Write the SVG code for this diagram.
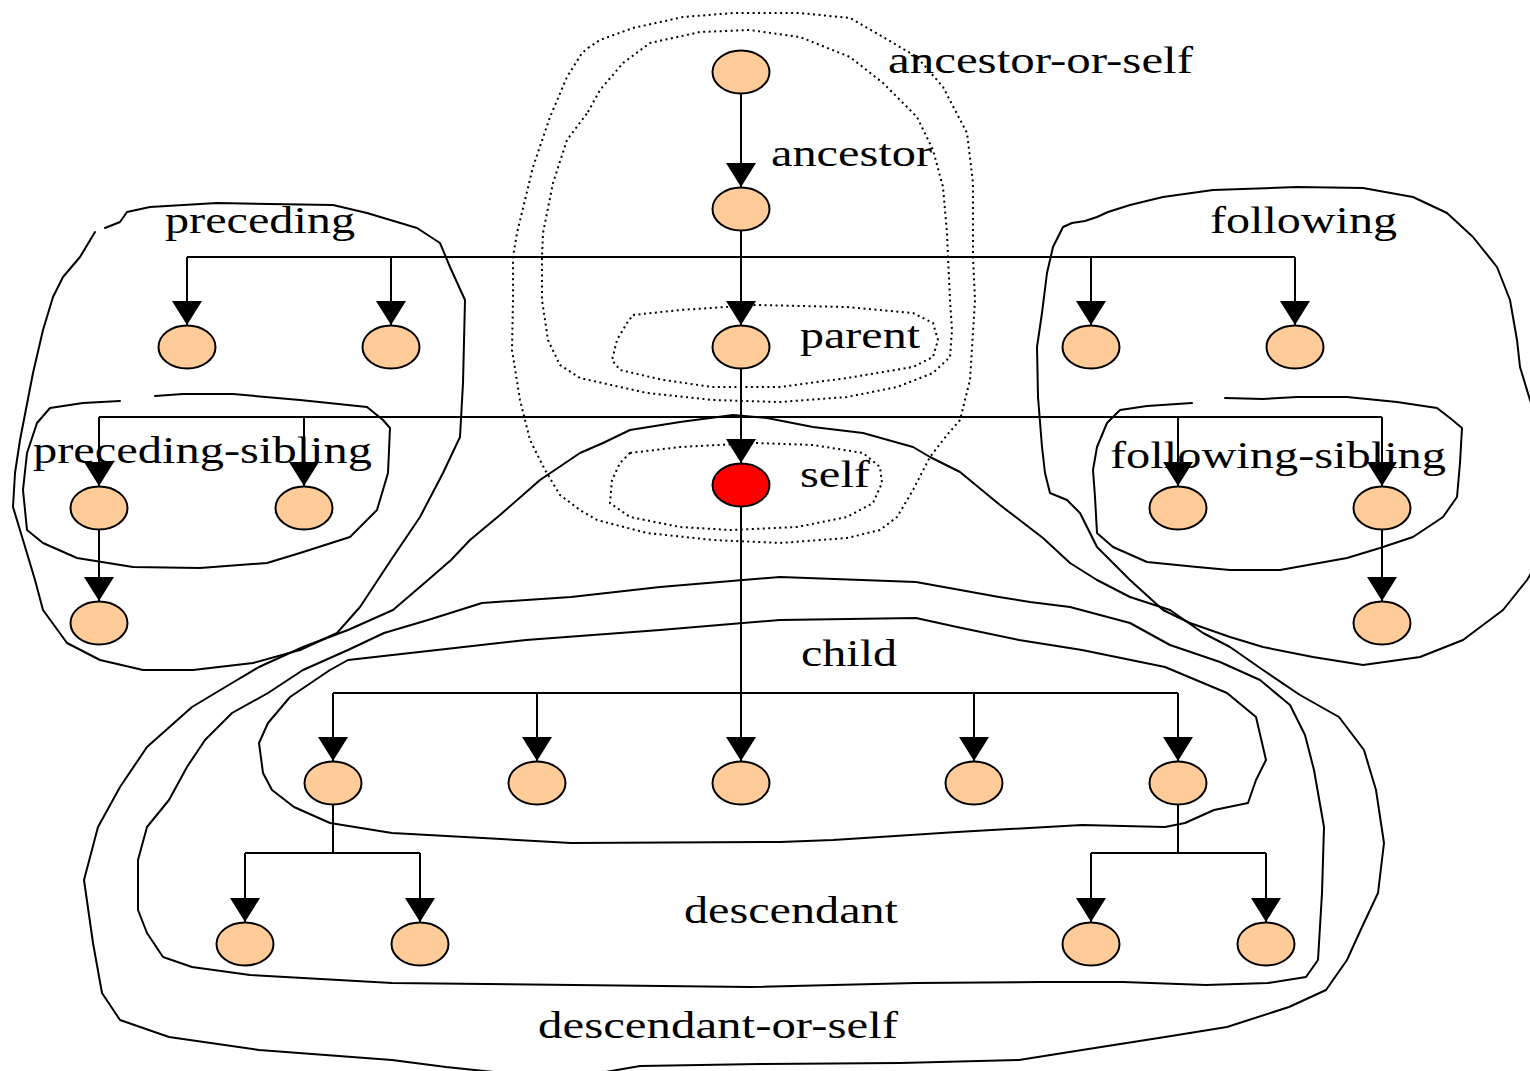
<svg xmlns="http://www.w3.org/2000/svg" width="1530" height="1071" viewBox="0 0 1530 1071">
<style>
.blob{fill:none;stroke:#000;stroke-width:2;stroke-linejoin:round;stroke-linecap:round}
.dot{fill:none;stroke:#000;stroke-width:2;stroke-dasharray:2 3.5;stroke-linejoin:round}
.con{fill:none;stroke:#000;stroke-width:2}
.arr{marker-end:url(#ah)}
.node{fill:#FFCC99;stroke:#000;stroke-width:2}
.self{fill:#FF0000;stroke:#000;stroke-width:2}
.lbl{font-family:"Liberation Serif","Times New Roman",serif;font-size:38px;fill:#000}
</style>
<defs>
<marker id="ah" markerUnits="userSpaceOnUse" markerWidth="24" markerHeight="30" viewBox="0 0 24 30" refX="24" refY="15" orient="auto">
<path d="M0,0 L24,15 L0,30 Z" fill="#000"/>
</marker>
</defs>
<rect width="1530" height="1071" fill="#fff"/>

<g id="regions">
<path id="r-ancestor-or-self" class="dot" d="M588,48 L600,40 L633,28 L683,17 L733,13 L800,13 L850,18 L883,37 L917,57 L943,87 L967,133 L973,183 L973,257 L975,300 L970,380 L960,420 L947,435 L930,457 L913,490 L897,517 L880,530 L847,538 L780,543 L713,540 L647,533 L597,520 L580,510 L560,495 L545,470 L530,440 L520,400 L512,350 L513,300 L513,257 L517,233 L533,167 L550,117 L567,77 L582,53 Z"/>
<path id="r-ancestor" class="dot" d="M588,112 L600,90 L623,63 L650,43 L700,32 L750,30 L800,37 L850,57 L883,83 L917,117 L933,150 L943,187 L947,233 L948,257 L950,300 L952,330 L950,357 L933,373 L897,387 L847,397 L780,402 L713,400 L647,393 L580,378 L560,365 L548,340 L542,300 L542,257 L543,233 L553,183 L567,140 Z"/>
<path id="r-parent" class="dot" d="M633,315 L680,310 L757,305 L847,307 L913,313 L933,323 L938,340 L933,357 L913,367 L847,378 L780,387 L713,387 L663,380 L620,370 L612,360 L617,340 L627,323 Z"/>
<path id="r-self" class="dot" d="M630,453 L680,447 L757,443 L813,445 L863,453 L880,467 L882,483 L873,503 L847,517 L797,527 L730,530 L680,527 L630,517 L610,503 L612,480 L620,463 Z"/>

<path id="r-preceding" class="blob" d="M105,228 L120,222 L127,212 L150,207 L217,203 L333,205 L367,213 L417,228 L440,243 L450,267 L465,300 L463,383 L460,437 L443,473 L420,517 L393,557 L360,607 L337,633 L300,650 L253,663 L193,670 L143,670 L100,660 L67,643 L43,610 L35,580 L23,540 L13,507 L15,473 L20,440 L33,373 L43,330 L53,297 L63,277 L80,257 L95,232"/>
<path id="r-preceding-sibling" class="blob" d="M155,396 L183,394 L233,394 L300,400 L367,407 L383,420 L390,428 L388,473 L377,510 L350,537 L300,553 L267,563 L200,568 L133,567 L77,558 L43,543 L27,530 L23,490 L27,453 L37,423 L50,408 L83,403 L120,401"/>
<path id="r-following" class="blob" d="M1072,223 L1085,221 L1097,217 L1108,212 L1130,205 L1163,197 L1213,190 L1297,187 L1363,188 L1413,197 L1447,213 L1473,237 L1497,267 L1510,300 L1517,340 L1520,367 L1530,400 L1545,440 L1545,550 L1527,580 L1503,610 L1463,640 L1420,657 L1363,665 L1313,657 L1263,647 L1230,637 L1190,623 L1163,610 L1130,580 L1097,547 L1080,513 L1067,500 L1050,493 L1045,473 L1042,447 L1038,397 L1037,347 L1042,313 L1047,273 L1053,247 L1063,227 Z"/>
<path id="r-following-sibling" class="blob" d="M1225,398 L1263,399 L1297,397 L1347,397 L1397,402 L1437,408 L1450,418 L1462,428 L1460,463 L1457,497 L1443,517 L1413,537 L1380,548 L1347,558 L1280,570 L1230,570 L1197,567 L1147,562 L1113,547 L1097,533 L1095,497 L1093,470 L1097,447 L1107,423 L1120,410 L1147,406 L1192,403"/>
<path id="r-descendant-or-self" class="blob" d="M733,415 L767,418 L813,427 L863,433 L913,447 L930,457 L960,472 L1000,505 L1030,528 L1043,538 L1070,563 L1097,580 L1130,597 L1170,610 L1203,633 L1230,647 L1263,670 L1300,695 L1339,717 L1364,750 L1376,790 L1384,843 L1378,893 L1362,927 L1347,960 L1326,990 L1289,1007 L1227,1027 L1165,1037 L1082,1050 L1019,1060 L900,1063 L760,1064 L640,1066 L594,1074 L513,1074 L446,1067 L392,1060 L259,1050 L169,1037 L120,1020 L102,993 L93,943 L84,880 L98,827 L120,787 L147,747 L192,707 L232,683 L259,667 L303,647 L348,630 L393,610 L428,580 L451,560 L470,540 L500,515 L540,480 L580,453 L603,443 L630,430 L680,422 Z"/>
<path id="r-descendant" class="blob" d="M780,577 L916,582 L999,597 L1030,602 L1070,607 L1130,623 L1170,645 L1220,662 L1260,680 L1290,705 L1305,735 L1314,770 L1324,827 L1322,893 L1318,960 L1306,977 L1268,983 L1206,985 L1123,982 L1040,982 L916,983 L750,987 L392,983 L250,975 L192,967 L163,957 L147,933 L138,910 L138,860 L147,827 L169,800 L187,767 L205,740 L232,713 L268,693 L303,670 L348,650 L384,633 L428,620 L482,603 L571,597 L660,587 Z"/>
<path id="r-child" class="blob" d="M780,620 L916,618 L957,627 L1019,640 L1082,650 L1165,667 L1227,693 L1256,717 L1266,760 L1256,780 L1248,803 L1214,810 L1185,823 L1165,827 L1082,825 L957,832 L833,840 L780,842 L571,843 L392,833 L330,823 L294,807 L272,790 L263,773 L259,743 L268,723 L290,697 L330,670 L348,660 L437,650 L526,640 L660,630 Z"/>
</g>

<g id="connectors">
<path class="con arr" d="M741,93 V187"/>
<path class="con arr" d="M741,231 V325"/>
<path class="con arr" d="M741,369 V463"/>
<path class="con arr" d="M741,507 V761"/>
<path class="con" d="M187,257 H1295"/>
<path class="con arr" d="M187,257 V325"/>
<path class="con arr" d="M391,257 V325"/>
<path class="con arr" d="M1091,257 V325"/>
<path class="con arr" d="M1295,257 V325"/>
<path class="con" d="M99,417 H1382"/>
<path class="con arr" d="M99,417 V486"/>
<path class="con arr" d="M304,417 V486"/>
<path class="con arr" d="M1178,417 V486"/>
<path class="con arr" d="M1382,417 V486"/>
<path class="con arr" d="M99,530 V601"/>
<path class="con arr" d="M1382,530 V601"/>
<path class="con" d="M333,693 H1178"/>
<path class="con arr" d="M333,693 V761"/>
<path class="con arr" d="M537,693 V761"/>
<path class="con arr" d="M974,693 V761"/>
<path class="con arr" d="M1178,693 V761"/>
<path class="con" d="M333,805 V853 M245,853 H420"/>
<path class="con arr" d="M245,853 V922"/>
<path class="con arr" d="M420,853 V922"/>
<path class="con" d="M1178,805 V853 M1091,853 H1266"/>
<path class="con arr" d="M1091,853 V922"/>
<path class="con arr" d="M1266,853 V922"/>
</g>

<g id="n-root"><ellipse class="node" cx="741" cy="72" rx="28.5" ry="21.5"/></g>
<g id="n-ancestor"><ellipse class="node" cx="741" cy="209" rx="28.5" ry="21.5"/></g>
<g id="n-parent"><ellipse class="node" cx="741" cy="347" rx="28.5" ry="21.5"/></g>
<g id="n-self"><ellipse class="self" cx="741" cy="485" rx="28.5" ry="21.5"/></g>
<g id="n-prec1"><ellipse class="node" cx="187" cy="347" rx="28.5" ry="21.5"/></g>
<g id="n-prec2"><ellipse class="node" cx="391" cy="347" rx="28.5" ry="21.5"/></g>
<g id="n-foll1"><ellipse class="node" cx="1091" cy="347" rx="28.5" ry="21.5"/></g>
<g id="n-foll2"><ellipse class="node" cx="1295" cy="347" rx="28.5" ry="21.5"/></g>
<g id="n-psib1"><ellipse class="node" cx="99" cy="508" rx="28.5" ry="21.5"/></g>
<g id="n-psib2"><ellipse class="node" cx="304" cy="508" rx="28.5" ry="21.5"/></g>
<g id="n-psib1c"><ellipse class="node" cx="99" cy="623" rx="28.5" ry="21.5"/></g>
<g id="n-fsib1"><ellipse class="node" cx="1178" cy="508" rx="28.5" ry="21.5"/></g>
<g id="n-fsib2"><ellipse class="node" cx="1382" cy="508" rx="28.5" ry="21.5"/></g>
<g id="n-fsib2c"><ellipse class="node" cx="1382" cy="623" rx="28.5" ry="21.5"/></g>
<g id="n-child1"><ellipse class="node" cx="333" cy="783" rx="28.5" ry="21.5"/></g>
<g id="n-child2"><ellipse class="node" cx="537" cy="783" rx="28.5" ry="21.5"/></g>
<g id="n-child3"><ellipse class="node" cx="741" cy="783" rx="28.5" ry="21.5"/></g>
<g id="n-child4"><ellipse class="node" cx="974" cy="783" rx="28.5" ry="21.5"/></g>
<g id="n-child5"><ellipse class="node" cx="1178" cy="783" rx="28.5" ry="21.5"/></g>
<g id="n-desc1"><ellipse class="node" cx="245" cy="944" rx="28.5" ry="21.5"/></g>
<g id="n-desc2"><ellipse class="node" cx="420" cy="944" rx="28.5" ry="21.5"/></g>
<g id="n-desc3"><ellipse class="node" cx="1091" cy="944" rx="28.5" ry="21.5"/></g>
<g id="n-desc4"><ellipse class="node" cx="1266" cy="944" rx="28.5" ry="21.5"/></g>

<g id="labels">
<text class="lbl" x="888" y="73" textLength="305" lengthAdjust="spacingAndGlyphs">ancestor-or-self</text>
<text class="lbl" x="771" y="166" textLength="161" lengthAdjust="spacingAndGlyphs">ancestor</text>
<text class="lbl" x="165" y="233" textLength="190" lengthAdjust="spacingAndGlyphs">preceding</text>
<text class="lbl" x="1210" y="233" textLength="187" lengthAdjust="spacingAndGlyphs">following</text>
<text class="lbl" x="800" y="348" textLength="120" lengthAdjust="spacingAndGlyphs">parent</text>
<text class="lbl" x="800" y="487" textLength="70" lengthAdjust="spacingAndGlyphs">self</text>
<text class="lbl" x="33" y="463" textLength="339" lengthAdjust="spacingAndGlyphs">preceding-sibling</text>
<text class="lbl" x="1110" y="468" textLength="336" lengthAdjust="spacingAndGlyphs">following-sibling</text>
<text class="lbl" x="801" y="666" textLength="96" lengthAdjust="spacingAndGlyphs">child</text>
<text class="lbl" x="684" y="923" textLength="214" lengthAdjust="spacingAndGlyphs">descendant</text>
<text class="lbl" x="538" y="1038" textLength="360" lengthAdjust="spacingAndGlyphs">descendant-or-self</text>
</g>
</svg>
